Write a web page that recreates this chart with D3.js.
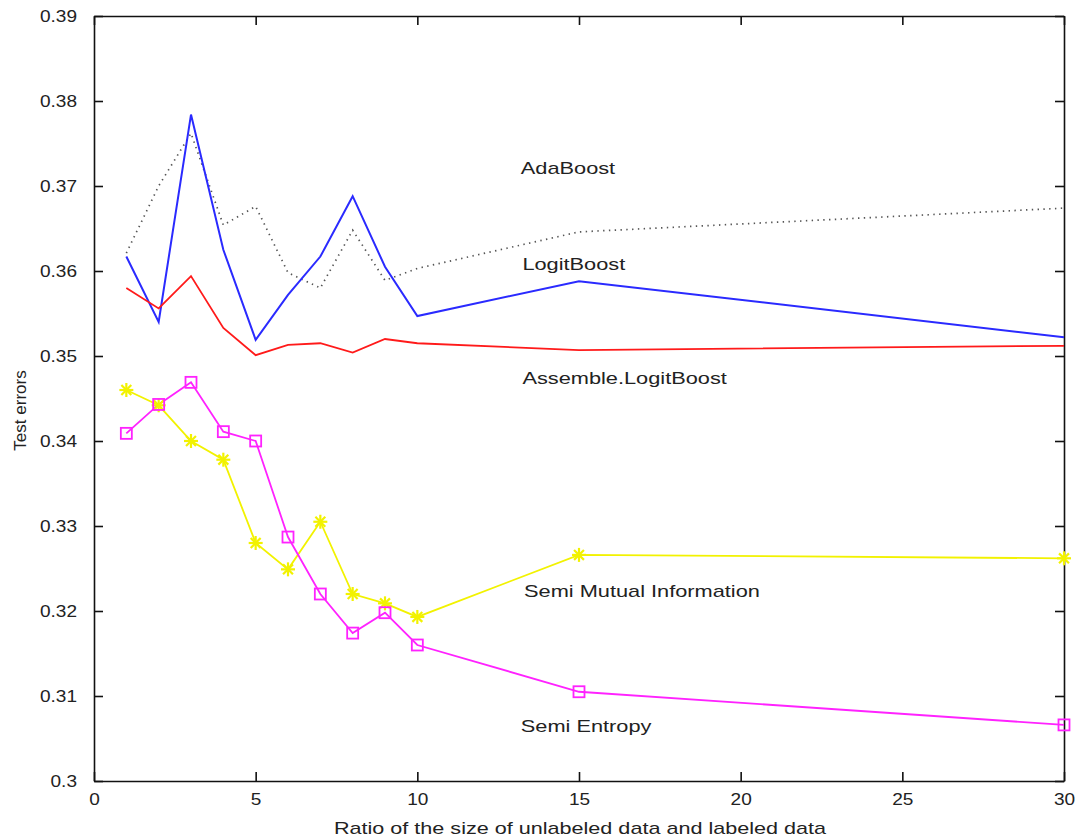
<!DOCTYPE html>
<html>
<head>
<meta charset="utf-8">
<script src="https://cdn.jsdelivr.net/npm/d3@7"></script>
<style>
  body { margin: 0; background: #fff; }
  text { font-family: "Liberation Sans", Arial, sans-serif; fill: #222; }
</style>
</head>
<body>
<div id="chart-area"></div>
<script>
// x positions of the runs (ratio unlabeled / labeled)
const ratios = [1, 2, 3, 4, 5, 6, 7, 8, 9, 10, 15, 30];

// test errors per method
const adaBoost      = [0.3621, 0.3700, 0.3762, 0.3654, 0.3676, 0.3598, 0.3580, 0.3648, 0.3589, 0.3603, 0.3646, 0.3674];
const logitBoost    = [0.3617, 0.3540, 0.3784, 0.3625, 0.3519, 0.3572, 0.3617, 0.3688, 0.3605, 0.3547, 0.3588, 0.3522];
const assembleLogit = [0.3580, 0.3556, 0.3594, 0.3533, 0.3501, 0.3513, 0.3515, 0.3504, 0.3520, 0.3515, 0.3507, 0.3512];
const semiMutual    = [0.3460, 0.3442, 0.3400, 0.3378, 0.3280, 0.3249, 0.3305, 0.3220, 0.3209, 0.3193, 0.3266, 0.3262];
const semiEntropy   = [0.3409, 0.3443, 0.3469, 0.3411, 0.3400, 0.3287, 0.3220, 0.3174, 0.3198, 0.3160, 0.3105, 0.3066];

const xTicks = [0, 5, 10, 15, 20, 25, 30];
const yTicks = [0.3, 0.31, 0.32, 0.33, 0.34, 0.35, 0.36, 0.37, 0.38, 0.39];

// text labels placed next to the curves (data coords)
const labels = [
  { text: "AdaBoost", x: 13.2, y: 0.3714 },
  { text: "LogitBoost", x: 13.25, y: 0.3601 },
  { text: "Assemble.LogitBoost", x: 13.25, y: 0.3467 },
  { text: "Semi Mutual Information", x: 13.3, y: 0.3217 },
  { text: "Semi Entropy", x: 13.2, y: 0.3058 }
];

const width = 1078, height = 838;
const margin = { top: 16, right: 14, bottom: 57, left: 94 };

const x = d3.scaleLinear().domain([0, 30]).range([margin.left, width - margin.right]);
const y = d3.scaleLinear().domain([0.3, 0.39]).range([height - margin.bottom, margin.top]);

const svg = d3.select("#chart-area")
  .append("svg")
  .attr("width", width)
  .attr("height", height);

// the source figure is stretched sideways, so widen the glyphs a bit
function stretch(sel, k) {
  sel.each(function () {
    const w = this.getComputedTextLength();
    d3.select(this).attr("textLength", w * k).attr("lengthAdjust", "spacingAndGlyphs");
  });
}

// axes box with inward ticks on all four sides
const tickLen = 9;
svg.append("g")
  .attr("transform", `translate(0,${y(0.3)})`)
  .call(d3.axisBottom(x).tickValues(xTicks).tickSizeInner(-tickLen).tickSizeOuter(0).tickPadding(12).tickFormat(d3.format("d")))
  .call(g => g.selectAll("text").attr("font-size", 17));
svg.append("g")
  .attr("transform", `translate(0,${y(0.39)})`)
  .call(d3.axisTop(x).tickValues(xTicks).tickSizeInner(-tickLen).tickSizeOuter(0).tickFormat(""));
svg.append("g")
  .attr("transform", `translate(${x(0)},0)`)
  .call(d3.axisLeft(y).tickValues(yTicks).tickSizeInner(-tickLen).tickSizeOuter(0).tickPadding(17).tickFormat(d => d3.format("")(+d.toFixed(2))))
  .call(g => g.selectAll("text").attr("font-size", 17));
svg.append("g")
  .attr("transform", `translate(${x(30)},0)`)
  .call(d3.axisRight(y).tickValues(yTicks).tickSizeInner(-tickLen).tickSizeOuter(0).tickFormat(""));

svg.selectAll(".domain").attr("stroke", "#111").attr("stroke-width", 1.6);
svg.selectAll(".tick line").attr("stroke", "#111").attr("stroke-width", 1.6);
svg.selectAll(".tick text").attr("fill", "#222").attr("font-family", "Liberation Sans, Arial, sans-serif");
stretch(svg.selectAll(".tick text"), 1.12);

// axis titles
svg.append("text")
  .attr("x", (x(0) + x(30)) / 2 + 1)
  .attr("y", 834)
  .attr("text-anchor", "middle")
  .attr("font-size", 17)
  .text("Ratio of the size of unlabeled data and labeled data")
  .call(stretch, 1.27);

svg.append("text")
  .attr("transform", `translate(26,${(y(0.3) + y(0.39)) / 2 + 12}) rotate(-90)`)
  .attr("text-anchor", "middle")
  .attr("font-size", 17)
  .text("Test errors");

const line = d3.line().x((d, i) => x(ratios[i])).y(d => y(d));

const series = [
  { values: adaBoost, color: "#555", dash: "1.4,4.4", width: 1.7 },
  { values: logitBoost, color: "#2a2aff", dash: null, width: 2 },
  { values: assembleLogit, color: "#ff1a1a", dash: null, width: 1.8 },
  { values: semiMutual, color: "#f2f200", dash: null, width: 1.8 },
  { values: semiEntropy, color: "#ff22ff", dash: null, width: 1.8 }
];

svg.append("g")
  .selectAll("path")
  .data(series)
  .join("path")
  .attr("fill", "none")
  .attr("stroke", d => d.color)
  .attr("stroke-width", d => d.width)
  .attr("stroke-dasharray", d => d.dash)
  .attr("d", d => line(d.values));

// asterisk markers for Semi Mutual Information
const star = svg.append("g")
  .selectAll("g")
  .data(semiMutual)
  .join("g")
  .attr("transform", (d, i) => `translate(${x(ratios[i])},${y(d)})`)
  .attr("stroke", "#f2f200")
  .attr("stroke-width", 2.2);
const r = 7;
[0, 45, 90, 135].forEach(a => {
  star.append("line")
    .attr("x1", -r).attr("x2", r).attr("y1", 0).attr("y2", 0)
    .attr("transform", `rotate(${a})`);
});

// square markers for Semi Entropy
const s = 11;
svg.append("g")
  .selectAll("rect")
  .data(semiEntropy)
  .join("rect")
  .attr("x", (d, i) => x(ratios[i]) - s / 2)
  .attr("y", d => y(d) - s / 2)
  .attr("width", s)
  .attr("height", s)
  .attr("fill", "none")
  .attr("stroke", "#ff22ff")
  .attr("stroke-width", 1.8);

svg.append("g")
  .selectAll("text")
  .data(labels)
  .join("text")
  .attr("x", d => x(d.x))
  .attr("y", d => y(d.y))
  .attr("font-size", 17)
  .text(d => d.text)
  .call(stretch, 1.28);
</script>
</body>
</html>
